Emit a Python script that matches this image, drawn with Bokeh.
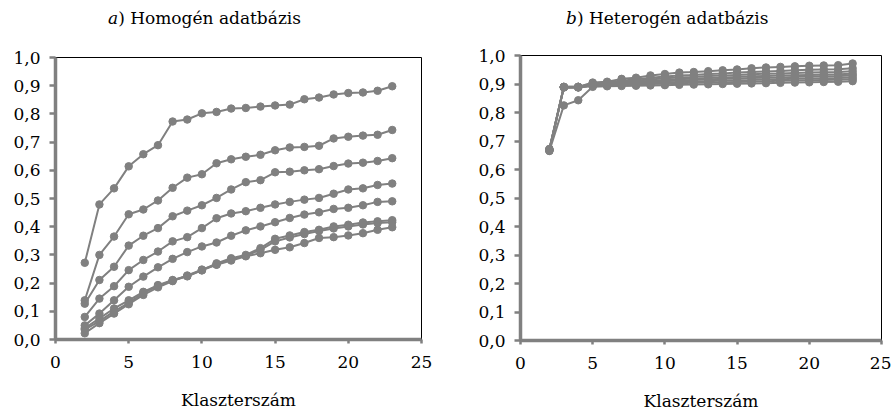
from bokeh.plotting import figure
from bokeh.layouts import row, column
from bokeh.models import Range1d, FixedTicker, CustomJSTickFormatter, Div
from bokeh.embed import file_html
from bokeh.resources import INLINE

# ---------------- data ----------------
KLASZTER = [2, 3, 4, 5, 6, 7, 8, 9, 10, 11, 12, 13, 14, 15, 16, 17, 18, 19, 20, 21, 22, 23]

HOMOGEN = [
    [0.272, 0.479, 0.536, 0.614, 0.657, 0.689, 0.773, 0.780, 0.802, 0.807, 0.819,
     0.821, 0.826, 0.830, 0.833, 0.852, 0.858, 0.869, 0.874, 0.876, 0.882, 0.898],
    [0.139, 0.300, 0.365, 0.444, 0.461, 0.493, 0.538, 0.574, 0.586, 0.625, 0.639,
     0.648, 0.655, 0.671, 0.681, 0.683, 0.687, 0.713, 0.719, 0.723, 0.726, 0.743],
    [0.127, 0.211, 0.258, 0.333, 0.368, 0.395, 0.437, 0.457, 0.476, 0.502, 0.532,
     0.558, 0.565, 0.593, 0.595, 0.600, 0.604, 0.615, 0.624, 0.627, 0.633, 0.643],
    [0.080, 0.145, 0.189, 0.246, 0.282, 0.312, 0.348, 0.363, 0.395, 0.430, 0.447,
     0.455, 0.467, 0.479, 0.488, 0.496, 0.502, 0.517, 0.532, 0.536, 0.548, 0.553],
    [0.050, 0.092, 0.139, 0.187, 0.223, 0.256, 0.286, 0.310, 0.330, 0.344, 0.368,
     0.387, 0.401, 0.416, 0.431, 0.443, 0.451, 0.463, 0.467, 0.476, 0.488, 0.490],
    [0.040, 0.075, 0.110, 0.139, 0.169, 0.193, 0.211, 0.225, 0.246, 0.270, 0.288,
     0.300, 0.324, 0.357, 0.369, 0.381, 0.389, 0.401, 0.407, 0.415, 0.419, 0.423],
    [0.035, 0.065, 0.100, 0.130, 0.165, 0.190, 0.209, 0.224, 0.245, 0.266, 0.285,
     0.297, 0.318, 0.348, 0.362, 0.374, 0.385, 0.394, 0.401, 0.408, 0.413, 0.416],
    [0.022, 0.058, 0.092, 0.125, 0.158, 0.185, 0.207, 0.227, 0.248, 0.265, 0.280,
     0.295, 0.306, 0.318, 0.327, 0.342, 0.360, 0.363, 0.369, 0.377, 0.389, 0.398],
]

HETEROGEN = [
    [0.672, 0.890, 0.890, 0.905, 0.908, 0.918, 0.922, 0.930, 0.935, 0.940, 0.942,
     0.945, 0.948, 0.951, 0.955, 0.958, 0.960, 0.962, 0.964, 0.965, 0.966, 0.972],
    [0.670, 0.890, 0.890, 0.902, 0.905, 0.912, 0.916, 0.922, 0.926, 0.930, 0.932,
     0.935, 0.937, 0.940, 0.942, 0.944, 0.946, 0.948, 0.950, 0.951, 0.952, 0.955],
    [0.668, 0.889, 0.890, 0.900, 0.903, 0.908, 0.912, 0.916, 0.920, 0.923, 0.925,
     0.928, 0.930, 0.932, 0.934, 0.936, 0.937, 0.939, 0.940, 0.941, 0.942, 0.945],
    [0.669, 0.889, 0.889, 0.898, 0.900, 0.905, 0.908, 0.911, 0.914, 0.917, 0.919,
     0.921, 0.923, 0.925, 0.927, 0.928, 0.930, 0.931, 0.932, 0.933, 0.934, 0.936],
    [0.667, 0.888, 0.889, 0.896, 0.899, 0.902, 0.905, 0.907, 0.910, 0.912, 0.914,
     0.916, 0.918, 0.919, 0.921, 0.922, 0.923, 0.925, 0.926, 0.927, 0.928, 0.930],
    [0.671, 0.889, 0.888, 0.895, 0.897, 0.899, 0.901, 0.903, 0.905, 0.907, 0.908,
     0.910, 0.912, 0.913, 0.914, 0.916, 0.917, 0.918, 0.919, 0.920, 0.921, 0.923],
    [0.666, 0.888, 0.888, 0.893, 0.895, 0.897, 0.898, 0.900, 0.901, 0.903, 0.904,
     0.905, 0.906, 0.907, 0.908, 0.910, 0.911, 0.912, 0.913, 0.914, 0.915, 0.917],
    [0.665, 0.825, 0.843, 0.890, 0.892, 0.893, 0.894, 0.895, 0.896, 0.897, 0.898,
     0.899, 0.900, 0.901, 0.902, 0.903, 0.904, 0.905, 0.906, 0.907, 0.908, 0.910],
]

X_TICKS = [0, 5, 10, 15, 20, 25]
Y_TICKS = [0.0, 0.1, 0.2, 0.3, 0.4, 0.5, 0.6, 0.7, 0.8, 0.9, 1.0]
X_LABEL = "Klaszterszám"
TITLE_LETTERS = ["a", "b"]
TITLE_TEXTS = [") Homogén adatbázis", ") Heterogén adatbázis"]

# ---------------- style ----------------
FONT = "DejaVu Serif"
FS = "17px"
GRAY = "#808080"
DIV_H = 45


def make_title(letter, text, width, left):
    html = ('<div style="position:absolute; left:%dpx; top:10px; white-space:nowrap; '
            'font-family:\'%s\'; font-size:%s; color:black; line-height:1;">'
            '<i>%s</i>%s</div>' % (left, FONT, FS, letter, text))
    return Div(text=html, width=width, height=DIV_H, margin=(0, 0, 0, 0),
               styles={"position": "relative"})


def make_panel(series, width, height, mb_left, mb_right, mb_top, mb_bottom):
    p = figure(width=width, height=height, x_range=Range1d(0, 25), y_range=Range1d(0, 1),
               output_backend="svg", toolbar_location=None,
               min_border_left=mb_left, min_border_right=mb_right,
               min_border_top=mb_top, min_border_bottom=mb_bottom)
    p.background_fill_color = "white"
    p.border_fill_color = "white"
    p.outline_line_color = "black"
    p.outline_line_width = 1
    p.xgrid.visible = False
    p.ygrid.visible = False

    p.xaxis.ticker = FixedTicker(ticks=X_TICKS)
    p.yaxis.ticker = FixedTicker(ticks=Y_TICKS)
    p.yaxis.formatter = CustomJSTickFormatter(code="return tick.toFixed(1).replace('.', ',');")
    for ax in (p.xaxis, p.yaxis):
        ax.axis_line_color = GRAY
        ax.axis_line_width = 3.5
        ax.major_tick_line_color = GRAY
        ax.major_tick_line_width = 2.5
        ax.major_tick_in = 0
        ax.minor_tick_line_color = None
        ax.major_label_text_font = FONT
        ax.major_label_text_font_size = FS
        ax.major_label_text_color = "black"
    p.yaxis.major_tick_out = 6
    p.yaxis.major_label_standoff = 9
    p.xaxis.major_tick_out = 4
    p.xaxis.major_label_standoff = 12
    p.xaxis.axis_label = X_LABEL
    p.xaxis.axis_label_text_font = FONT
    p.xaxis.axis_label_text_font_size = FS
    p.xaxis.axis_label_text_font_style = "normal"
    p.xaxis.axis_label_text_color = "black"
    p.xaxis.axis_label_standoff = 19

    for ys in series:
        p.line(KLASZTER, ys, line_color=GRAY, line_width=2)
        p.scatter(KLASZTER, ys, size=7.5, fill_color=GRAY, line_color=GRAY)
    return p


FIG_H = 413 - DIV_H
p1 = make_panel(HOMOGEN, 470, FIG_H, 55, 49, 57 - DIV_H, 74)
p2 = make_panel(HETEROGEN, 421, FIG_H, 50, 10, 55 - DIV_H, 72)
t1 = make_title(TITLE_LETTERS[0], TITLE_TEXTS[0], 470, 108)
t2 = make_title(TITLE_LETTERS[1], TITLE_TEXTS[1], 421, 96)

layout = row(column(t1, p1), column(t2, p2))
open("out.html", "w").write(file_html(layout, INLINE))
